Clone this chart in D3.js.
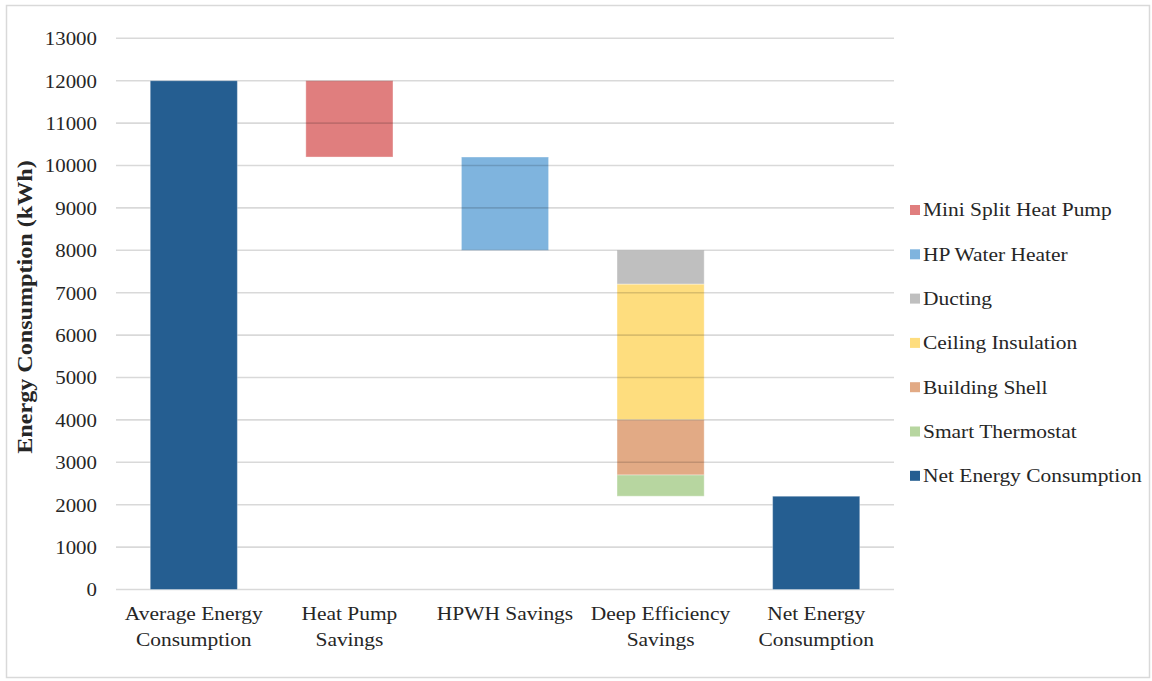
<!DOCTYPE html>
<html>
<head>
<meta charset="utf-8">
<script src="https://cdn.jsdelivr.net/npm/d3@7/dist/d3.min.js"></script>
<style>
  body { margin: 0; background: #fff; }
  text { font-family: "Liberation Serif", "Times New Roman", serif; fill: #262626; }
</style>
</head>
<body>
<svg id="chart" width="1152" height="681"></svg>
<script>
const categories = ["Average Energy Consumption", "Heat Pump Savings", "HPWH Savings", "Deep Efficiency Savings", "Net Energy Consumption"];
const categoryLines = [["Average Energy", "Consumption"], ["Heat Pump", "Savings"], ["HPWH Savings"], ["Deep Efficiency", "Savings"], ["Net Energy", "Consumption"]];
const seriesNames = ["Mini Split Heat Pump", "HP Water Heater", "Ducting", "Ceiling Insulation", "Building Shell", "Smart Thermostat", "Net Energy Consumption"];
const seriesColors = ["#e07e7e", "#7fb4de", "#bfbfbf", "#fedd7e", "#e2aa85", "#b7d6a0", "#255e91"];
// segments: [category index, series index, bottom value, top value]
const segCategory = [0, 1, 2, 3, 3, 3, 3, 4];
const segSeries   = [6, 0, 1, 2, 3, 4, 5, 6];
const segBottom   = [0, 10200, 8000, 7200, 4000, 2700, 2200, 0];
const segTop      = [12000, 12000, 10200, 8000, 7200, 4000, 2700, 2200];
const yTicks = [0,1000,2000,3000,4000,5000,6000,7000,8000,9000,10000,11000,12000,13000];

const svg = d3.select("#chart");
// outer frame
svg.append("rect").attr("x", 6.5).attr("y", 5.5).attr("width", 1143).attr("height", 672)
  .attr("fill", "none").attr("stroke", "#d9d9d9").attr("stroke-width", 1.5);

const x = d3.scaleBand().domain(categories).range([116, 894]).paddingInner(0.44).paddingOuter(0.22);
const y = d3.scaleLinear().domain([0, 13000]).range([589.5, 38.3]);

const segs = segCategory.map((c, i) => ({c, s: segSeries[i], b: segBottom[i], t: segTop[i]}));

// translucent bars first
svg.append("g").selectAll("rect").data(segs.filter(d => d.s !== 6)).join("rect")
  .attr("x", d => x(categories[d.c])).attr("width", x.bandwidth())
  .attr("y", d => y(d.t)).attr("height", d => y(d.b) - y(d.t))
  .attr("fill", d => seriesColors[d.s])
  .attr("stroke", "#fff").attr("stroke-opacity", 0.35).attr("stroke-width", 1);

// gridlines
svg.append("g").selectAll("line").data(yTicks).join("line")
  .attr("x1", 116).attr("x2", 894)
  .attr("y1", d => y(d)).attr("y2", d => y(d))
  .attr("stroke", "#000").attr("stroke-opacity", 0.15).attr("stroke-width", 1.6);

// opaque bars
svg.append("g").selectAll("rect").data(segs.filter(d => d.s === 6)).join("rect")
  .attr("x", d => x(categories[d.c])).attr("width", x.bandwidth())
  .attr("y", d => y(d.t)).attr("height", d => y(d.b) - y(d.t))
  .attr("fill", seriesColors[6])
  .attr("stroke", "#fff").attr("stroke-opacity", 0.35).attr("stroke-width", 1);

// y axis labels
const yAxis = d3.axisLeft(y).tickValues(yTicks).tickSize(0).tickPadding(0).tickFormat(d3.format("d"));
const ga = svg.append("g").attr("transform", "translate(97,0)").call(yAxis);
ga.select(".domain").remove();
ga.selectAll("text").attr("font-family", "Liberation Serif").attr("font-size", 19).attr("fill", "#262626")
  .attr("transform", "scale(1.1,1)").attr("dy", "0.34em");

// x labels
const xg = svg.append("g");
categories.forEach((c, i) => {
  const cx = x(c) + x.bandwidth() / 2;
  const t = xg.append("text").attr("text-anchor", "middle").attr("font-size", 19.5)
    .attr("transform", `translate(${cx},0) scale(1.1,1)`);
  categoryLines[i].forEach((ln, j) => {
    t.append("tspan").attr("x", 0).attr("y", 620 + j * 26).text(ln);
  });
});

// y title
svg.append("text").attr("transform", "translate(32,307) rotate(-90) scale(1.15,1)")
  .attr("text-anchor", "middle").attr("font-size", 21).attr("font-weight", "bold")
  .attr("fill", "#262626").text("Energy Consumption (kWh)");

// legend
const lg = svg.append("g");
seriesNames.forEach((n, i) => {
  const cy = 210 + i * 44.3;
  lg.append("rect").attr("x", 910).attr("y", cy - 5).attr("width", 10).attr("height", 10).attr("fill", seriesColors[i]);
  lg.append("text").attr("x", 0).attr("y", 0).attr("dy", "0.33em").attr("font-size", 19.5)
    .attr("transform", `translate(923,${cy}) scale(1.1,1)`).text(n);
});
</script>
</body>
</html>
